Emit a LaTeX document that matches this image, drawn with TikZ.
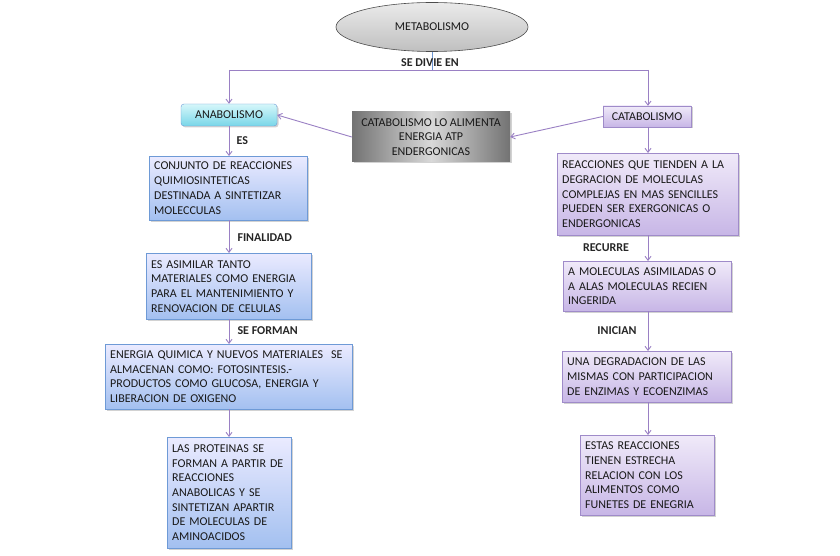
\documentclass[tikz,border=0pt]{standalone}
\usepackage{fontspec}
\setmainfont{Carlito}
\usetikzlibrary{shapes.geometric,shadows,arrows.meta}
\definecolor{conn}{HTML}{9A80C4}
\definecolor{bluebd}{HTML}{6E9AD6}
\definecolor{purpbd}{HTML}{9F8BC9}
\tikzset{
  x=1pt,y=-1pt,
  txt/.style={font=\fontsize{12}{14.7}\selectfont, text=black!90},
  lbl/.style={font=\fontsize{12}{14}\selectfont\bfseries, text=black!85},
  boxbase/.style={txt, draw, align=left, inner xsep=5pt, inner ysep=2pt, anchor=north west,
     drop shadow={shadow xshift=1.5pt, shadow yshift=-1.5pt, opacity=0.35}},
  bluebox/.style={boxbase, draw=bluebd, top color=blue!8!white, bottom color={rgb,255:red,163;green,192;blue,240}},
  purpbox/.style={boxbase, draw=purpbd, top color={rgb,255:red,240;green,234;blue,249}, bottom color={rgb,255:red,199;green,182;blue,230}},
  arr/.style={draw=conn, line width=0.9pt, -{Straight Barb[length=4pt,width=6pt]}},
  ln/.style={draw=conn, line width=0.9pt},
}
\newcommand{\bx}[7]{% name, style, x1, y1, x2, y2, text
  \node[#2, text width={#5-#3-10}, minimum height={#6-#4}] (#1) at (#3,#4) {#7};}
\begin{document}
\begin{tikzpicture}
\useasboundingbox[fill=white] (0,0) rectangle (840,556);
% ellipse
\node[ellipse, draw=black!70, line width=0.6pt, minimum width=192, minimum height=49,
  top color=black!8, bottom color=black!25, txt] (meta) at (432,27) {METABOLISMO};
% top boxes
\node[txt, draw=bluebd, rounded corners=3pt, minimum width=96, minimum height=22, inner sep=0pt,
  top color={rgb,255:red,214;green,247;blue,250}, bottom color={rgb,255:red,120;green,214;blue,232},
  drop shadow={shadow xshift=1.5pt, shadow yshift=-1.5pt, opacity=0.35}] (ana) at (229,115) {ANABOLISMO};
\node[txt, draw=purpbd, minimum width=88, minimum height=21, inner sep=0pt,
  top color={rgb,255:red,240;green,234;blue,249}, bottom color={rgb,255:red,199;green,182;blue,230},
  drop shadow={shadow xshift=1.5pt, shadow yshift=-1.5pt, opacity=0.35}] (cata) at (647,116.5) {CATABOLISMO};
\node[txt, align=center, minimum width=158, minimum height=50, inner sep=0pt,
  left color=black!55, right color=black!55, middle color=black!15,
  drop shadow={shadow xshift=1.5pt, shadow yshift=-1.5pt, opacity=0.35}] (mid) at (431,137)
  {CATABOLISMO LO ALIMENTA\\ENERGIA ATP\\ENDERGONICAS};
% left column
\bx{l1}{bluebox}{149}{156}{307}{220}{CONJUNTO DE REACCIONES\\QUIMIOSINTETICAS\\DESTINADA A SINTETIZAR\\MOLECCULAS}
\bx{l2}{bluebox}{146}{253}{311}{319}{ES ASIMILAR TANTO\\MATERIALES COMO ENERGIA\\PARA EL MANTENIMIENTO Y\\RENOVACION DE CELULAS}
\bx{l3}{bluebox}{105}{344}{352}{409}{ENERGIA QUIMICA Y NUEVOS MATERIALES\ \ SE\\ALMACENAN COMO: FOTOSINTESIS.-\\PRODUCTOS COMO GLUCOSA, ENERGIA Y\\LIBERACION DE OXIGENO}
\bx{l4}{bluebox}{167}{437}{291}{548}{LAS PROTEINAS SE\\FORMAN A PARTIR DE\\REACCIONES\\ANABOLICAS Y SE\\SINTETIZAN APARTIR\\DE MOLECULAS DE\\AMINOACIDOS}
% right column
\bx{r1}{purpbox}{557}{153}{738}{235}{REACCIONES QUE TIENDEN A LA\\DEGRACION DE MOLECULAS\\COMPLEJAS EN MAS SENCILLES\\PUEDEN SER EXERGONICAS O\\ENDERGONICAS}
\bx{r2}{purpbox}{563}{261}{731}{311}{A MOLECULAS ASIMILADAS O\\A ALAS MOLECULAS RECIEN\\INGERIDA}
\bx{r3}{purpbox}{562}{351}{731}{402}{UNA DEGRADACION DE LAS\\MISMAS CON PARTICIPACION\\DE ENZIMAS Y ECOENZIMAS}
\bx{r4}{purpbox}{580}{435}{714}{515}{ESTAS REACCIONES\\TIENEN ESTRECHA\\RELACION CON LOS\\ALIMENTOS COMO\\FUNETES DE ENEGRIA}
% connectors
\coordinate (split) at (432,70);
\coordinate (splitL) at (229,70);
\coordinate (splitR) at (648,70);
\draw[draw={rgb,255:red,110;green,150;blue,210}, line width=0.9pt] (meta.south) -- (split);
\draw[ln] (splitL) -- (splitR);
\draw[arr] (splitL) -- (splitL |- ana.north);
\draw[arr] (splitR) -- (splitR |- cata.north);
\node[lbl] at (430,63) {SE DIVIE EN};
\draw[arr] (mid.west) -- (ana.east);
\draw[arr] (cata.west) -- (mid.east);
\draw[arr] (ana.south) -- (ana.south |- l1.north);
\node[lbl, anchor=west] at (233,141) {ES};
\draw[arr] (ana.south |- l1.south) -- (ana.south |- l2.north);
\node[lbl, anchor=west] at (234,238) {FINALIDAD};
\draw[arr] (ana.south |- l2.south) -- (ana.south |- l3.north);
\node[lbl, anchor=west] at (234,331) {SE FORMAN};
\draw[arr] (ana.south |- l3.south) -- (ana.south |- l4.north);
\coordinate (rx) at (648,0);
\draw[arr] (rx |- cata.south) -- (rx |- r1.north);
\draw[arr] (rx |- r1.south) -- (rx |- r2.north);
\node[lbl] at (606,248) {RECURRE};
\draw[arr] (rx |- r2.south) -- (rx |- r3.north);
\node[lbl] at (617,331) {INICIAN};
\draw[arr] (rx |- r3.south) -- (rx |- r4.north);
\end{tikzpicture}
\end{document}
